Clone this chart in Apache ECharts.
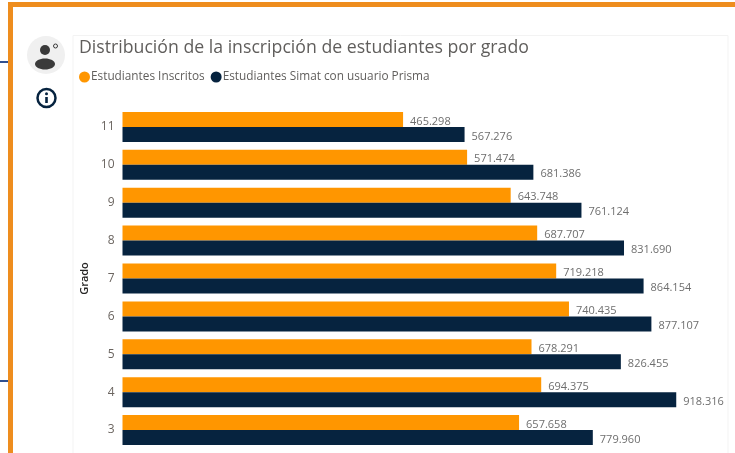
<!DOCTYPE html>
<html>
<head>
<meta charset="utf-8">
<style>
  html, body { margin: 0; padding: 0; background: #fff; }
  #chart { width: 735px; height: 453px; }
</style>
<script src="https://cdn.jsdelivr.net/npm/echarts@6/dist/echarts.min.js"></script>
</head>
<body>
<div id="chart"></div>
<script>
var grados = ['3', '4', '5', '6', '7', '8', '9', '10', '11'];
var inscritos = [657658, 694375, 678291, 740435, 719218, 687707, 643748, 571474, 465298];
var simat = [779960, 918316, 826455, 877107, 864154, 831690, 761124, 681386, 567276];

var FONT = '"Open Sans", "Noto Sans", sans-serif';

// miles con punto, como en el original
function miles(p) {
  return String(p.value).replace(/\B(?=(\d{3})+$)/g, '.');
}

var chart = echarts.init(document.getElementById('chart'), null, { renderer: 'canvas' });
chart.setOption({
  animation: false,
  backgroundColor: '#fff',
  textStyle: { fontFamily: FONT },
  title: {
    text: 'Distribución de la inscripción de estudiantes por grado',
    left: 74, top: 34,
    textStyle: { fontFamily: FONT, fontSize: 17.7, fontWeight: 'normal', color: '#605e5c' }
  },
  legend: {
    left: 74, top: 66,
    icon: 'circle',
    itemWidth: 11, itemHeight: 11, itemGap: 6,
    textStyle: { fontFamily: FONT, fontSize: 11.8, color: '#605e5c', padding: [0, 0, 0, -4] }
  },
  grid: { left: 122.5, top: 108, width: 603, height: 341 },
  xAxis: { type: 'value', min: 0, max: 1000000, show: false },
  yAxis: {
    type: 'category',
    data: grados,
    name: 'Grado',
    nameLocation: 'middle',
    nameGap: 29,
    nameTextStyle: { fontFamily: FONT, fontSize: 11, fontWeight: 600, color: '#252423' },
    axisLine: { show: false },
    axisTick: { show: false },
    axisLabel: { fontFamily: FONT, fontSize: 12, color: '#6b6560', margin: 8, padding: [3, 0, 0, 0] }
  },
  series: [
    {
      name: 'Estudiantes Inscritos',
      type: 'bar',
      data: inscritos,
      barWidth: 15,
      barGap: 0,
      itemStyle: { color: '#ff9600' },
      label: { show: true, position: 'right', distance: 7, offset: [0, 2], formatter: miles, fontFamily: FONT, fontSize: 11, color: '#6e6e6e' }
    },
    {
      name: 'Estudiantes Simat con usuario Prisma',
      type: 'bar',
      data: simat,
      barWidth: 15,
      itemStyle: { color: '#06233f' },
      label: { show: true, position: 'right', distance: 7, offset: [0, 2], formatter: miles, fontFamily: FONT, fontSize: 11, color: '#6e6e6e' }
    }
  ],
  graphic: [
    // marco naranja y tarjeta
    { type: 'rect', z: -10, shape: { x: 0, y: 61, width: 8, height: 2 }, style: { fill: '#2f4f8f' } },
    { type: 'rect', z: -10, shape: { x: 0, y: 380, width: 8, height: 2 }, style: { fill: '#2f4f8f' } },
    { type: 'rect', z: -10, shape: { x: 8, y: 2, width: 727, height: 5 }, style: { fill: '#ee8d1e' } },
    { type: 'rect', z: -10, shape: { x: 8, y: 2, width: 5, height: 451 }, style: { fill: '#ee8d1e' } },
    { type: 'rect', z: -9, shape: { x: 73, y: 35.5, width: 655, height: 430 }, style: { fill: '#fff', stroke: '#f3f3f3', lineWidth: 1 } },
    // avatar
    { type: 'circle', z: -8, shape: { cx: 46, cy: 55, r: 19 }, style: { fill: '#f0f0f0' } },
    { type: 'circle', z: -7, shape: { cx: 45, cy: 50, r: 5 }, style: { fill: '#3a3a3a' } },
    { type: 'ellipse', z: -7, shape: { cx: 45, cy: 64, rx: 10, ry: 5.5 }, style: { fill: '#3a3a3a' } },
    { type: 'circle', z: -7, shape: { cx: 55.5, cy: 46, r: 2 }, style: { fill: 'none', stroke: '#3a3a3a', lineWidth: 1 } },
    // icono de informacion
    { type: 'circle', z: -7, shape: { cx: 46.5, cy: 98, r: 9 }, style: { fill: '#fff', stroke: '#06233f', lineWidth: 2.5 } },
    { type: 'rect', z: -7, shape: { x: 45.2, y: 97, width: 2.6, height: 6 }, style: { fill: '#06233f' } },
    { type: 'circle', z: -7, shape: { cx: 46.5, cy: 93.8, r: 1.5 }, style: { fill: '#06233f' } }
  ]
});
</script>
</body>
</html>
